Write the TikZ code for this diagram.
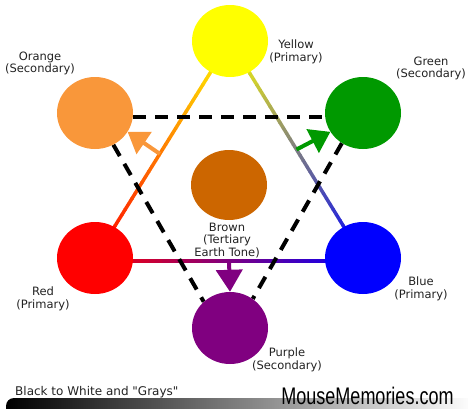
\documentclass[tikz,border=0pt]{standalone}
\usepackage{fontspec}
\usetikzlibrary{shapes.geometric,arrows.meta,calc}
\newfontfamily\labfont{DejaVu Sans}
\newfontfamily\brandfont{Liberation Sans}
\definecolor{cyel}{HTML}{FFFF00}
\definecolor{cora}{HTML}{F9973A}
\definecolor{cgrn}{HTML}{009900}
\definecolor{cred}{HTML}{FF0000}
\definecolor{cblu}{HTML}{0000FF}
\definecolor{cpur}{HTML}{800080}
\definecolor{cbrn}{HTML}{CC6600}
\definecolor{ctxt}{HTML}{222222}
\pgfdeclarelayer{bg}
\pgfsetlayers{bg,main}
\begin{document}
\begin{tikzpicture}[x=1pt,y=-1pt,
  blob/.style={ellipse, minimum width=76pt, minimum height=72pt, inner sep=0pt, draw=none},
  lab/.style={align=center, font=\labfont\fontsize{11.5}{12.8}\selectfont, text=ctxt, inner sep=0pt},
  dashline/.style={line width=4pt, black, dash pattern=on 13pt off 9pt},
  arr/.style={line width=4pt, -{Triangle[length=20pt,width=26pt]}},
  grad/.style={line width=3.5pt, line cap=butt}
]
\useasboundingbox (0,0) rectangle (468,408);

% colour circles
\node[blob, fill=cyel] (yel) at (230,41) {};
\node[blob, fill=cora] (ora) at (95,113) {};
\node[blob, fill=cgrn] (grn) at (363,113) {};
\node[blob, fill=cred] (red) at (95,258) {};
\node[blob, fill=cblu] (blu) at (363,258) {};
\node[blob, fill=cpur] (pur) at (230,328) {};
\node[blob, fill=cbrn, minimum height=70pt] (brn) at (229,185) {};

\coordinate (rbA) at ($(red)+(0,3)$);
\coordinate (rbB) at ($(blu)+(0,3)$);

\begin{pgfonlayer}{bg}
  % primary triangle with colour gradients
  \foreach \i in {0,...,39}{
    \pgfmathsetmacro\ta{\i/40}
    \pgfmathsetmacro\tb{(\i+1.1)/40}
    \pgfmathtruncatemacro\pc{100-100*(\i+0.5)/40}
    \draw[grad, color=cyel!\pc!cred] ($(yel)!\ta!(red)$) -- ($(yel)!\tb!(red)$);
    \draw[grad, color=cyel!\pc!cblu] ($(yel)!\ta!(blu)$) -- ($(yel)!\tb!(blu)$);
    \draw[grad, color=cred!\pc!cblu] ($(rbA)!\ta!(rbB)$) -- ($(rbA)!\tb!(rbB)$);
  }
  % secondary triangle, dashed
  \draw[dashline] ([yshift=-4pt]ora.east) -- ([yshift=-4pt]grn.west);
  \draw[dashline] (ora.-60) -- (pur.135);
  \draw[dashline] (grn.-125) -- (pur.52);
\end{pgfonlayer}

% mixing arrows
\draw[arr, cora] ($(yel)!0.52!(red)$) -- (ora.-30);
\draw[arr, cgrn] ($(yel)!0.5!(blu)$) -- (grn.-150);
\draw[line width=4pt, cpur, -{Triangle[length=22pt,width=26pt]}] ($(rbA)!0.5!(rbB)$) -- (pur.north);

% labels
\node[lab] (lyel) at (296,51.5) {Yellow\\(Primary)};
\node[lab] (lora) at (40,63.5) {Orange\\(Secondary)};
\node[lab] (lgrn) at (431,68.5) {Green\\(Secondary)};
\node[lab] (lred) at (43,298.5) {Red\\(Primary)};
\node[lab] (lblu) at (421,288.5) {Blue\\(Primary)};
\node[lab] (lpur) at (287,359.5) {Purple\\(Secondary)};
\node[lab] (lbrn) at (227,240.5) {Brown\\(Tertiary\\Earth Tone)};

% bottom gray scale bar
\begin{scope}
  \clip (0,0) rectangle (468,408);
  \shade[left color=black, right color=white]
    (6,412) -- (6,406) arc[start angle=180, end angle=270, radius=8] -- (474,398) -- (474,412) -- cycle;
\end{scope}
\node[anchor=base west, inner sep=0pt, text=ctxt, font=\labfont\fontsize{12}{12}\selectfont] (gray) at (15,395) {Black to White and "Grays"};
\node[anchor=base, inner sep=0pt, text=black] (brand) at (367.5,404)
  {\scalebox{0.75}[1]{\brandfont\fontsize{24}{24}\selectfont MouseMemories.com}};
\end{tikzpicture}
\end{document}
